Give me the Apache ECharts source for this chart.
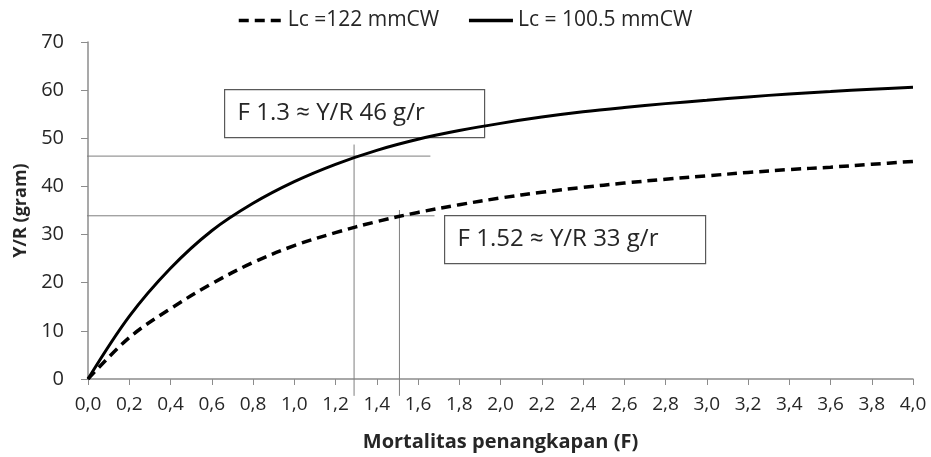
<!DOCTYPE html>
<html>
<head>
<meta charset="utf-8">
<script src="https://cdn.jsdelivr.net/npm/echarts@6/dist/echarts.min.js"></script>
<style>
  html, body { margin: 0; padding: 0; background: #fff; }
  #chart { width: 931px; height: 457px; }
</style>
</head>
<body>
<div id="chart"></div>
<script>
// F values (x) and Y/R
var fValues = [0, 0.2, 0.4, 0.6, 0.8, 1.0, 1.2, 1.4, 1.6, 1.8, 2.0, 2.2, 2.4, 2.6, 2.8, 3.0, 3.2, 3.4, 3.6, 3.8, 4.0]
var yr122 = [0, 8.6, 14.6, 19.8, 24.2, 27.7, 30.4, 32.7, 34.6, 36.2, 37.6, 38.8, 39.8, 40.7, 41.5, 42.2, 42.9, 43.5, 44.0, 44.6, 45.2]
var yr1005 = [0, 13.0, 23.0, 30.8, 36.5, 41.0, 44.6, 47.5, 49.8, 51.6, 53.1, 54.4, 55.5, 56.4, 57.2, 57.9, 58.6, 59.2, 59.7, 60.2, 60.6]
var seriesNames = ['Lc =122 mmCW', 'Lc = 100.5 mmCW']

// drop lines: [start, end] points in data units
var dropLine1H = [[-0.07, 46.3], [1.66, 46.3]]
var dropLine1V = [[1.29, -3.5], [1.29, 48.7]]
var dropLine2H = [[-0.05, 33.9], [1.68, 33.9]]
var dropLine2V = [[1.51, -3.5], [1.51, 35.1]]

var note1 = 'F 1.3 \u2248 Y/R 46 g/r'
var note2 = 'F 1.52 \u2248 Y/R 33 g/r'

var FONT = '"Open Sans", "Noto Sans", sans-serif'
var TXT = '#262626'
var AX = '#8c8c8c'

function pairs(ys) {
  return fValues.map(function (f, i) { return [f, ys[i]] })
}

function dropSeries(d) {
  return {
    type: 'line',
    data: d,
    symbol: 'none',
    clip: false,
    silent: true,
    z: 1,
    lineStyle: { color: '#7f7f7f', width: 1 }
  }
}

var chart = echarts.init(document.getElementById('chart'))
chart.setOption({
  animation: false,
  backgroundColor: '#fff',
  textStyle: { fontFamily: FONT },
  grid: { left: 88, right: 18, top: 42, bottom: 76 },
  legend: {
    top: 5,
    left: 232,
    itemWidth: 44,
    itemHeight: 14,
    itemGap: 28,
    data: seriesNames,
    itemStyle: { opacity: 0 },
    lineStyle: { width: 3.5 },
    textStyle: { fontFamily: FONT, fontSize: 21, color: TXT }
  },
  xAxis: {
    type: 'value',
    min: 0,
    max: 4,
    interval: 0.2,
    name: 'Mortalitas penangkapan (F)',
    nameLocation: 'middle',
    nameGap: 53,
    nameTextStyle: { fontFamily: FONT, fontSize: 20, fontWeight: 'bold', color: TXT },
    axisLine: { lineStyle: { color: AX, width: 1.5 } },
    axisTick: { length: 6, lineStyle: { color: AX } },
    splitLine: { show: false },
    axisLabel: {
      fontFamily: FONT, fontSize: 19, color: TXT, margin: 16,
      formatter: function (v) { return v.toFixed(1).replace('.', ',') }
    }
  },
  yAxis: {
    type: 'value',
    min: 0,
    max: 70,
    interval: 10,
    name: 'Y/R (gram)',
    nameLocation: 'middle',
    nameGap: 58,
    nameTextStyle: { fontFamily: FONT, fontSize: 18, fontWeight: 'bold', color: TXT },
    axisLine: { show: true, lineStyle: { color: AX, width: 1.5 } },
    axisTick: { show: true, length: 7, lineStyle: { color: AX } },
    splitLine: { show: false },
    axisLabel: { fontFamily: FONT, fontSize: 20, color: TXT, margin: 24 }
  },
  series: [
    {
      name: seriesNames[0],
      type: 'line',
      smooth: 0.35,
      symbol: 'none',
      z: 3,
      data: pairs(yr122),
      itemStyle: { color: '#000' },
      lineStyle: { color: '#000', width: 3.5, type: [10, 6] }
    },
    {
      name: seriesNames[1],
      type: 'line',
      smooth: 0.35,
      symbol: 'none',
      z: 3,
      data: pairs(yr1005),
      itemStyle: { color: '#000' },
      lineStyle: { color: '#000', width: 3 }
    },
    dropSeries(dropLine1H),
    dropSeries(dropLine1V),
    dropSeries(dropLine2H),
    dropSeries(dropLine2V)
  ],
  graphic: [
    {
      type: 'group', left: 224, top: 89, z: 10,
      children: [
        { type: 'rect', shape: { x: 0, y: 0, width: 260, height: 48 },
          style: { fill: '#fff', stroke: '#595959', lineWidth: 1.2 } },
        { type: 'text', x: 13, y: 24,
          style: { text: note1, font: '24px ' + FONT, fill: TXT, verticalAlign: 'middle' } }
      ]
    },
    {
      type: 'group', left: 444, top: 215, z: 10,
      children: [
        { type: 'rect', shape: { x: 0, y: 0, width: 261, height: 48 },
          style: { fill: '#fff', stroke: '#595959', lineWidth: 1.2 } },
        { type: 'text', x: 13, y: 24,
          style: { text: note2, font: '24px ' + FONT, fill: TXT, verticalAlign: 'middle' } }
      ]
    }
  ]
})
</script>
</body>
</html>
